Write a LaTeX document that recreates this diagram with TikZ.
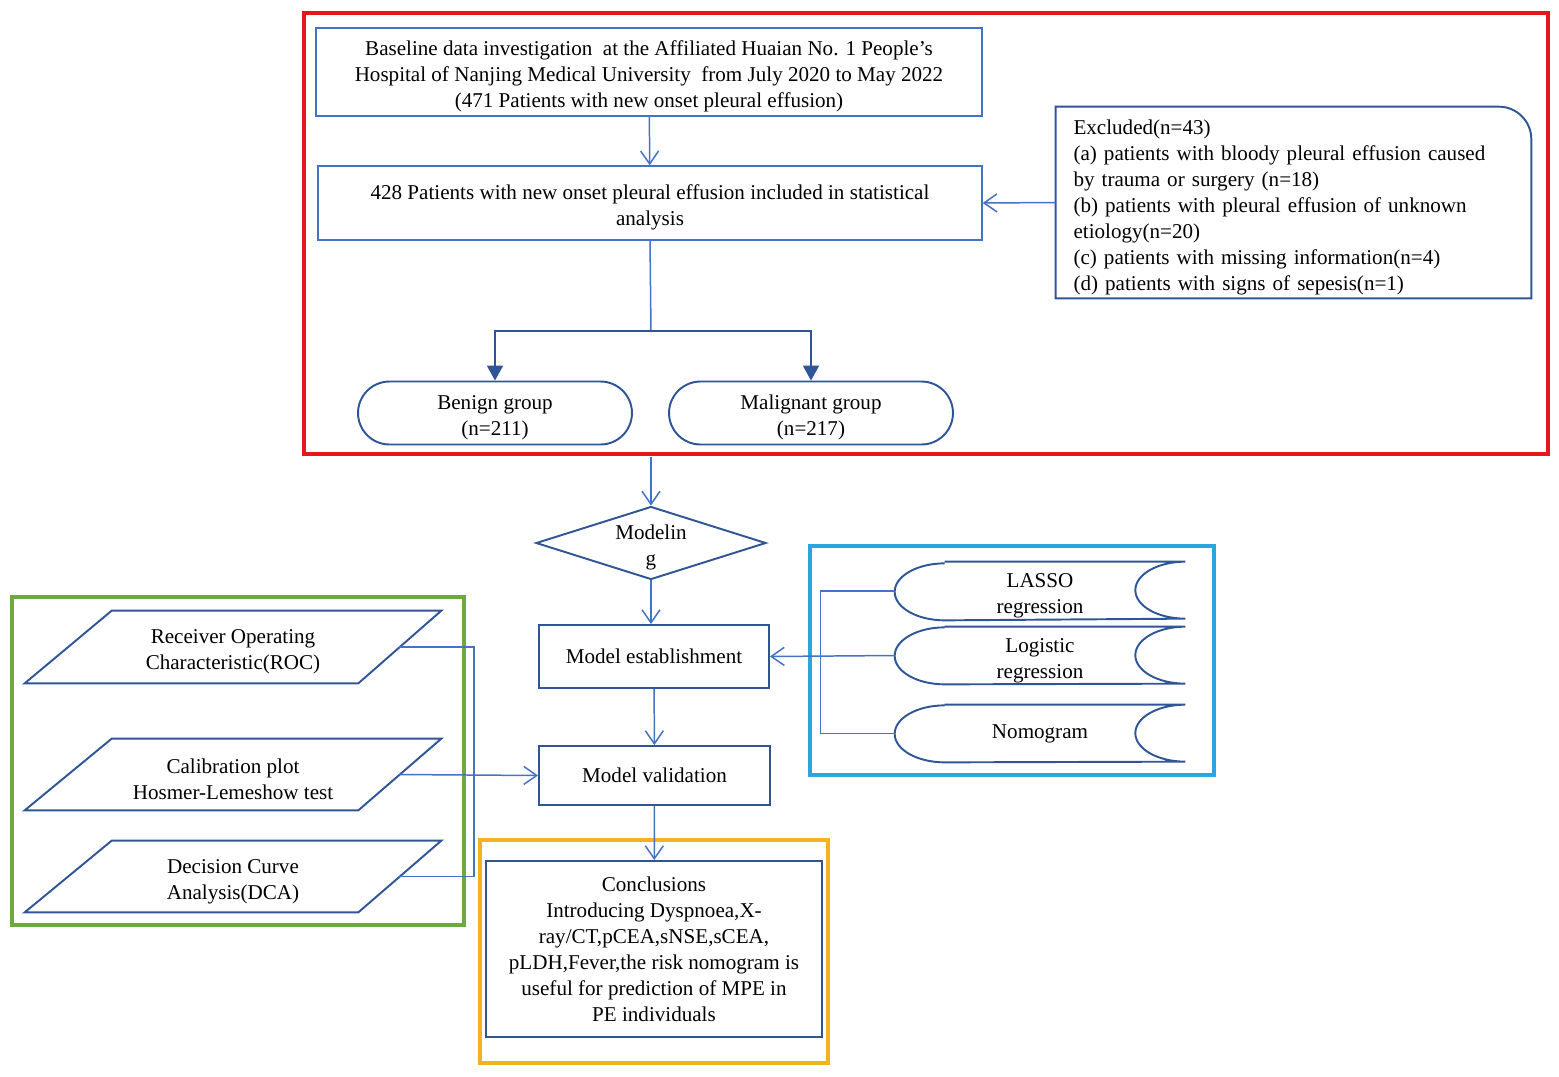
\documentclass[tikz,border=0pt]{standalone}
\usepackage{fontspec}
\setmainfont{Liberation Serif}
\usetikzlibrary{shapes.geometric}
\usetikzlibrary{arrows.meta}
\definecolor{lineblue}{HTML}{4472C4}
\definecolor{darkblue}{HTML}{2F5597}
\definecolor{framered}{HTML}{E5161D}
\definecolor{framegreen}{HTML}{6FA840}
\definecolor{framecyan}{HTML}{2AA6DD}
\definecolor{frameyellow}{HTML}{F2B322}
\newcommand{\lift}{\rule{0pt}{13.5pt}}
\tikzset{
  box/.style={draw=lineblue,line width=0.85pt,align=center,inner sep=0pt},
  dbox/.style={draw=darkblue,line width=1.1pt,align=center,inner sep=0pt},
  plain/.style={draw=none,align=center,inner sep=0pt},
  frame/.style={line width=2.6pt},
  link/.style={draw=lineblue,line width=0.85pt},
  arr/.style={link,-{Straight Barb[length=2.6mm,width=3.6mm]}},
  fillarr/.style={draw=darkblue,line width=1.1pt,-{Triangle[length=3mm,width=3.2mm]}}
}

\begin{document}
\begin{tikzpicture}[x=0.02cm,y=-0.02cm,font=\fontsize{12}{14.8}\selectfont]
\useasboundingbox (0,0) rectangle (1559,1076);

% frames
\draw[frame,framered] (304,13) rectangle (1548,454);
\draw[frame,framegreen] (12,597) rectangle (464,925);
\draw[frame,framecyan] (810,546) rectangle (1214,775);
\draw[frame,frameyellow] (480,840) rectangle (828,1063);

% top part
\node[box,minimum width=13.32cm,minimum height=1.76cm] (base) at (649,72)
  {\lift Baseline data investigation\ \ at the Affiliated Huaian No. 1 People's\\
   Hospital of Nanjing Medical University\ \ from July 2020 to May 2022\\
   (471 Patients with new onset pleural effusion)};
\node[box,minimum width=13.28cm,minimum height=1.48cm] (incl) at (650,203)
  {\lift 428 Patients with new onset pleural effusion included in statistical\\ analysis};
\node[plain,minimum width=9.5cm,minimum height=3.82cm,text width=8.8cm,align=left] (excl) at (1293.5,202.5)
  {\lift Excluded(n=43)\\
   (a) patients with bloody pleural effusion caused\\
   by trauma or surgery (n=18)\\
   (b) patients with pleural effusion of unknown\\
   etiology(n=20)\\
   (c) patients with missing information(n=4)\\
   (d) patients with signs of sepesis(n=1)};
\draw[darkblue,line width=1.1pt] (excl.south west) -- (excl.north west)
  -- ([xshift=-0.65cm]excl.north east) arc[start angle=90,end angle=0,radius=0.65cm]
  -- (excl.south east) -- cycle;

\node[dbox,rounded corners=0.63cm,minimum width=5.48cm,minimum height=1.26cm] (benign) at (495,413)
  {\lift Benign group\\(n=211)};
\node[dbox,rounded corners=0.63cm,minimum width=5.68cm,minimum height=1.26cm] (malig) at (811,413)
  {\lift Malignant group\\(n=217)};

% middle column
\node[dbox,diamond,aspect=3.15,inner sep=-3pt,minimum width=4.6cm,minimum height=1.46cm] (model) at (651,543)
  {\lift Modelin\\g};
\node[dbox,minimum width=4.6cm,minimum height=1.26cm] (estab) at (654,656.5) {Model establishment};
\node[dbox,minimum width=4.62cm,minimum height=1.18cm] (valid) at (654.5,775.5) {Model validation};
\node[dbox,minimum width=6.72cm,minimum height=3.52cm] (concl) at (654,949)
  {Conclusions\\
   Introducing Dyspnoea,X-\\
   ray/CT,pCEA,sNSE,sCEA,\\
   pLDH,Fever,the risk nomogram is\\
   useful for prediction of MPE in\\
   PE individuals};

% validation methods
\node[plain,minimum width=8.32cm,minimum height=1.44cm] (roc) at (233,647)
  {\lift Receiver Operating\\Characteristic(ROC)};
\node[plain,minimum width=8.32cm,minimum height=1.42cm] (cal) at (233,774.5)
  {\lift Calibration plot\\Hosmer-Lemeshow test};
\node[plain,minimum width=8.32cm,minimum height=1.42cm] (dca) at (233,876.5)
  {\lift Decision Curve\\Analysis(DCA)};
\foreach \p in {roc,cal,dca}
  \draw[darkblue,line width=1.1pt] (\p.south west) -- ([xshift=1.74cm]\p.north west)
    -- (\p.north east) -- ([xshift=-1.66cm]\p.south east) -- cycle;

% modelling methods
\node[plain,minimum width=5.8cm,minimum height=1.16cm] (lasso) at (1040,591) {\lift LASSO\\regression};
\node[plain,minimum width=5.8cm,minimum height=1.14cm] (logi) at (1040,655.5) {\lift Logistic\\regression};
\node[plain,minimum width=5.8cm,minimum height=1.14cm] (nomo) at (1040,733.5) {Nomogram};
\foreach \s in {lasso,logi,nomo}
  \draw[darkblue,line width=1.1pt] ([xshift=1cm]\s.north west) -- (\s.north east)
    arc[start angle=90,end angle=270,x radius=1cm,y radius=0.57cm]
    -- ([xshift=1cm]\s.south west)
    arc[start angle=270,end angle=90,x radius=1cm,y radius=0.57cm];

% connectors
\coordinate (split) at (651,331);
\coordinate (redfoot) at (651,457);
\draw[arr] (base) -- (incl);
\draw[arr] (excl.west) -- (incl.east);
\draw[link] (incl.south) -- (split);
\draw[fillarr] (split) -| (benign.north);
\draw[fillarr] (split) -| (malig.north);
\draw[arr] (redfoot) -- (model.north);
\draw[arr] (model.south) -- (model.south |- estab.north);
\draw[arr] (estab) -- (valid);
\draw[arr] (valid) -- (concl);
\draw[link] ([xshift=-0.85cm]roc.east) -- ++(75,0) |- ([xshift=-0.85cm]dca.east);
\draw[arr] ([xshift=-0.85cm]cal.east) -- (valid.west);
\draw[link] (lasso.west) -- ++(-74,0) |- (nomo.west);
\draw[arr] (logi.west) -- (estab.east);

\end{tikzpicture}
\end{document}
